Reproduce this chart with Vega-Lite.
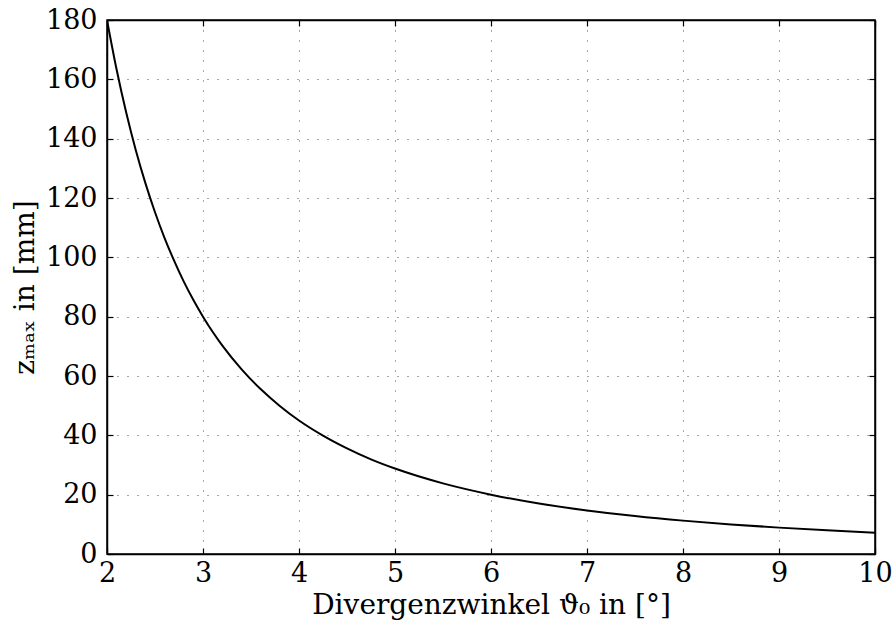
{
  "$schema": "https://vega.github.io/schema/vega-lite/v6.json",
  "width": 768,
  "height": 534,
  "autosize": {"type": "none"},
  "padding": {"left": 107, "top": 20, "right": 18, "bottom": 78},
  "background": "white",
  "config": {
    "view": {"stroke": "black", "strokeWidth": 1.5},
    "font": "DejaVu Serif",
    "text": {"font": "DejaVu Serif"},
    "axis": {
      "labelFont": "DejaVu Serif",
      "titleFont": "DejaVu Serif",
      "labelFontSize": 27,
      "titleFontSize": 28,
      "labelColor": "black",
      "titleColor": "black",
      "titleFontWeight": "normal",
      "domainColor": "black",
      "domainWidth": 1.5,
      "tickColor": "black",
      "tickWidth": 1.2,
      "gridColor": "black",
      "gridDash": [1, 9],
      "gridWidth": 1,
      "gridOpacity": 0.7
    }
  },
  "data": {
    "values": [
      {"theta": 2.0, "z": 180},
      {"theta": 2.1, "z": 163.3},
      {"theta": 2.2, "z": 148.8},
      {"theta": 2.3, "z": 136.1},
      {"theta": 2.4, "z": 125.0},
      {"theta": 2.5, "z": 115.2},
      {"theta": 2.6, "z": 106.5},
      {"theta": 2.7, "z": 98.8},
      {"theta": 2.8, "z": 91.8},
      {"theta": 2.9, "z": 85.6},
      {"theta": 3.0, "z": 80.0},
      {"theta": 3.1, "z": 74.9},
      {"theta": 3.2, "z": 70.3},
      {"theta": 3.4, "z": 62.3},
      {"theta": 3.6, "z": 55.6},
      {"theta": 3.8, "z": 49.9},
      {"theta": 4.0, "z": 45.0},
      {"theta": 4.25, "z": 39.9},
      {"theta": 4.5, "z": 35.6},
      {"theta": 4.75, "z": 31.9},
      {"theta": 5.0, "z": 28.8},
      {"theta": 5.5, "z": 23.8},
      {"theta": 6.0, "z": 20.0},
      {"theta": 6.5, "z": 17.0},
      {"theta": 7.0, "z": 14.7},
      {"theta": 7.5, "z": 12.8},
      {"theta": 8.0, "z": 11.25},
      {"theta": 8.5, "z": 9.97},
      {"theta": 9.0, "z": 8.89},
      {"theta": 9.5, "z": 7.98},
      {"theta": 10.0, "z": 7.2}
    ]
  },
  "layer": [
    {
      "mark": {"type": "line", "color": "black", "strokeWidth": 2, "interpolate": "monotone", "clip": true},
      "encoding": {
        "x": {
          "field": "theta", "type": "quantitative",
          "scale": {"domain": [2, 10], "nice": false, "zero": false},
          "axis": {"values": [2,3,4,5,6,7,8,9,10], "tickSize": -6, "labelPadding": 12, "grid": true,
                   "title": "Divergenzwinkel ϑ₀ in [°]", "titlePadding": 5, "labelFlush": false}
        },
        "y": {
          "field": "z", "type": "quantitative",
          "scale": {"domain": [0, 180], "nice": false},
          "axis": {"values": [0,20,40,60,80,100,120,140,160,180], "tickSize": -6, "labelPadding": 16, "grid": true,
                   "title": "zₘₐₓ in [mm]", "titlePadding": 6, "labelFlush": false}
        }
      }
    },
    {
      "mark": {"type": "line", "opacity": 0},
      "encoding": {
        "x": {"field": "theta", "type": "quantitative",
              "axis": {"orient": "top", "values": [2,3,4,5,6,7,8,9,10], "tickSize": -6, "labels": false, "grid": false, "title": null}},
        "y": {"field": "z", "type": "quantitative",
              "axis": {"orient": "right", "values": [0,20,40,60,80,100,120,140,160,180], "tickSize": -6, "labels": false, "grid": false, "title": null}}
      }
    }
  ],
  "resolve": {"axis": {"x": "independent", "y": "independent"}}
}
